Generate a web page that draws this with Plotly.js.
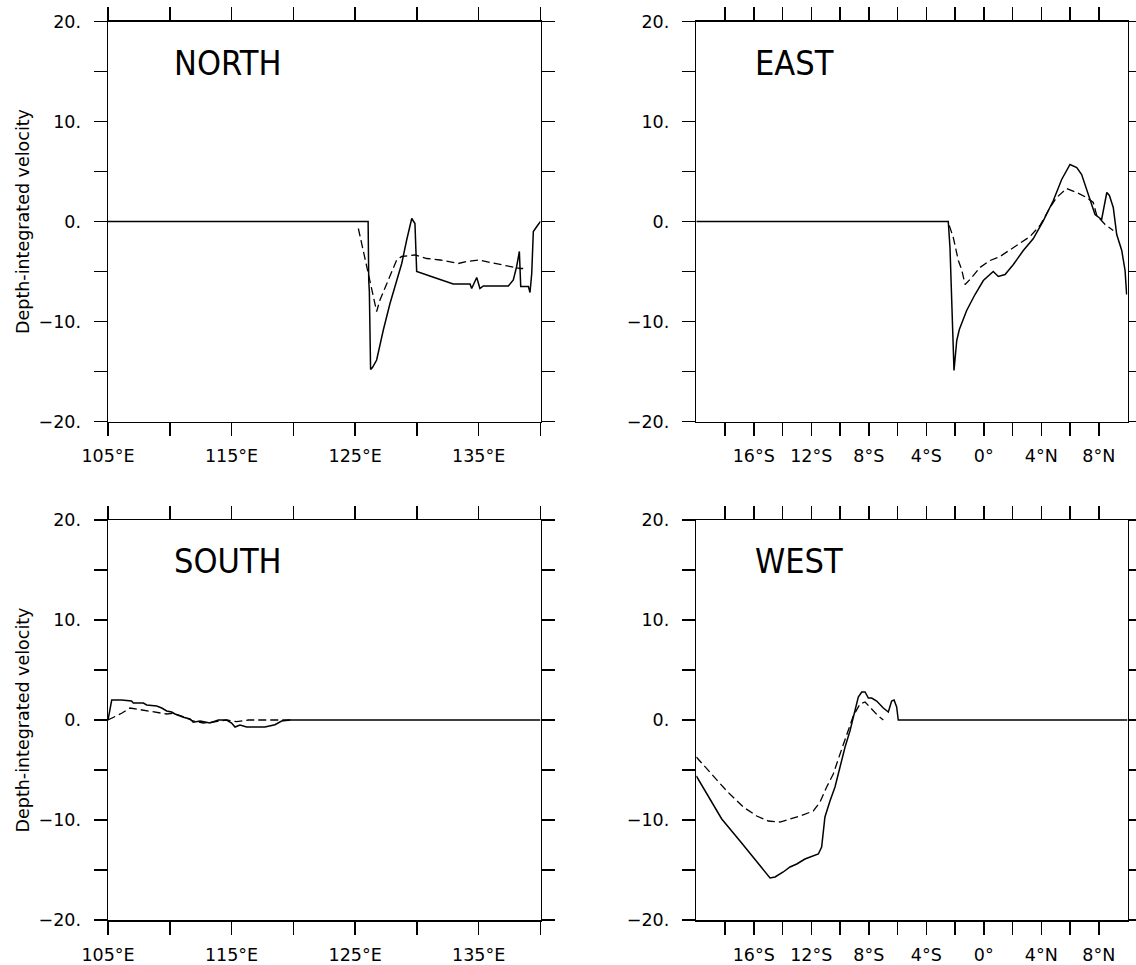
<!DOCTYPE html>
<html>
<head>
<meta charset="utf-8">
<script src="https://cdn.plot.ly/plotly-3.0.1.min.js"></script>
<style>html,body{margin:0;padding:0;background:#fff}#chart{width:1136px;height:965px}</style>
</head>
<body>
<div id="chart"></div>
<script>
// ---------- data ----------
const panelTitles = ["NORTH", "EAST", "SOUTH", "WEST"];
const yTitle = "Depth-integrated velocity";

const lonTickVals = [105, 110, 115, 120, 125, 130, 135, 140];
const lonTickText = ["105°E", "", "115°E", "", "125°E", "", "135°E", ""];
const latTickVals = [-18, -16, -14, -12, -10, -8, -6, -4, -2, 0, 2, 4, 6, 8];
const latTickText = ["", "16°S", "", "12°S", "", "8°S", "", "4°S", "", "0°", "", "4°N", "", "8°N"];
const velTickVals = [-20, -15, -10, -5, 0, 5, 10, 15, 20];
const velTickText = ["\u221220.", "", "\u221210.", "", "0.", "", "10.", "", "20."];

// NORTH section (longitude)
const northSolidX = [105, 126.05, 126.1, 126.15, 126.25, 126.4, 126.74, 127.28, 127.82, 128.36, 128.77, 129.17, 129.58, 129.84, 129.98, 131.4, 132.94, 134.3, 134.43, 134.84, 135.1, 135.37, 137.4, 137.8, 138.07, 138.29, 138.4, 139.02, 139.15, 139.29, 139.42, 139.7, 139.96, 140];
const northSolidY = [0, 0, -5.9, -7.0, -14.8, -14.6, -13.85, -10.85, -8.2, -5.85, -4.2, -1.85, 0.3, -0.2, -5.0, -5.6, -6.25, -6.25, -6.7, -5.6, -6.7, -6.45, -6.45, -5.85, -4.5, -3.0, -6.5, -6.5, -7.1, -5.2, -1.0, -0.5, 0, 0];
const northDashX = [125.26, 125.53, 125.93, 126.34, 126.74, 127.01, 127.55, 128.09, 128.36, 128.77, 129.84, 130.8, 131.87, 133.35, 134.03, 134.97, 136.45, 137.26, 138.34, 138.6];
const northDashY = [-0.7, -2.2, -4.7, -6.85, -9.0, -7.85, -6.2, -4.7, -3.85, -3.5, -3.35, -3.7, -3.85, -4.2, -4.0, -3.85, -4.25, -4.45, -4.7, -4.7];

// EAST section (latitude)
const eastSolidX = [-20, -2.47, -2.35, -2.23, -2.12, -2.07, -1.88, -1.7, -1.19, -0.61, -0.03, 0.66, 1.01, 1.48, 2.06, 2.75, 3.45, 4.14, 4.84, 5.42, 6.0, 6.47, 6.81, 7.27, 7.74, 8.2, 8.56, 8.74, 9.01, 9.25, 9.6, 9.83, 9.94];
const eastSolidY = [0, 0, -2.6, -7.6, -12.8, -14.9, -11.9, -10.8, -8.9, -7.3, -5.9, -5.0, -5.5, -5.3, -4.3, -2.9, -1.7, 0.07, 2.1, 4.2, 5.7, 5.4, 4.7, 2.7, 0.7, 0.2, 2.9, 2.6, 1.4, -1.3, -2.9, -4.9, -7.3];
const eastDashX = [-2.4, -2.12, -1.77, -1.54, -1.3, -0.96, -0.26, 0.43, 1.13, 1.83, 2.52, 3.22, 3.91, 4.61, 5.07, 5.77, 6.47, 7.16, 7.62, 7.86, 8.44, 9.01];
const eastDashY = [-0.4, -1.6, -3.9, -4.8, -6.3, -5.8, -4.6, -3.9, -3.5, -2.8, -2.2, -1.5, -0.4, 1.4, 2.4, 3.3, 2.9, 2.4, 1.9, 0.6, -0.3, -0.9];

// SOUTH section (longitude)
const southSolidX = [105, 105.16, 105.3, 106.1, 106.9, 107.05, 107.86, 108.13, 108.94, 109.35, 109.75, 110.15, 110.42, 111.1, 111.64, 111.9, 112.45, 113.25, 113.93, 114.6, 115.0, 115.28, 115.68, 116.22, 117.7, 118.51, 119.05, 119.73, 140];
const southSolidY = [0, 1.1, 2.0, 2.0, 1.9, 1.7, 1.7, 1.5, 1.4, 1.2, 0.9, 0.8, 0.6, 0.27, 0.1, -0.23, -0.1, -0.3, 0.0, 0.0, -0.3, -0.7, -0.5, -0.7, -0.7, -0.47, -0.1, 0, 0];
const southDashX = [105, 106.1, 106.78, 107.86, 108.8, 109.75, 110.28, 110.96, 111.9, 112.71, 113.52, 114.6, 115.41, 116.35, 117.84, 118.92, 120];
const southDashY = [0, 0.67, 1.2, 1.0, 0.8, 0.6, 0.67, 0.4, -0.1, -0.3, -0.2, 0.0, -0.17, 0.0, 0.0, 0, 0];

// WEST section (latitude)
const westSolidX = [-20, -19.28, -18.23, -16.96, -15.8, -15.22, -14.87, -14.52, -13.95, -13.48, -13.01, -12.44, -11.86, -11.51, -11.28, -11.16, -11.05, -10.7, -10.35, -10.0, -9.65, -9.31, -8.96, -8.73, -8.49, -8.26, -8.03, -7.8, -7.45, -6.99, -6.64, -6.41, -6.24, -6.06, -5.95, 10];
const westSolidY = [-5.6, -7.4, -9.9, -12.1, -14.1, -15.1, -15.8, -15.7, -15.2, -14.7, -14.4, -13.9, -13.6, -13.4, -12.7, -11.1, -9.7, -8.1, -6.7, -4.7, -2.7, -1.1, 0.9, 2.3, 2.8, 2.8, 2.2, 2.2, 1.9, 1.2, 0.8, 1.9, 2.0, 1.3, 0, 0];
const westDashX = [-20, -19.05, -17.88, -16.73, -15.8, -14.99, -14.18, -13.48, -12.79, -11.86, -11.39, -10.93, -10.47, -10.0, -9.54, -9.08, -8.61, -8.26, -7.8, -7.34, -6.99];
const westDashY = [-3.7, -5.2, -7.1, -8.7, -9.6, -10.1, -10.2, -9.9, -9.6, -9.1, -8.2, -6.7, -5.4, -3.4, -1.4, 0.4, 1.6, 1.8, 1.1, 0.4, 0];

// ---------- figure ----------
const W = 1136, H = 965;
const colL = [108 / W, 540.5 / W];
const colR = [696.3 / W, 1127.5 / W];
const rowT = [1 - 421.5 / H, 1 - 21.5 / H];
const rowB = [1 - 920 / H, 1 - 520 / H];

const tickFont = {family: "DejaVu Sans, Liberation Sans, sans-serif", size: 17.5, color: "#000"};
const solidLine = {color: "#000", width: 1.5};
const dashLine = {color: "#000", width: 1.3, dash: "8px,4px"};

function tr(x, y, ax, line) {
  return {x: x, y: y, xaxis: "x" + ax, yaxis: "y" + ax, mode: "lines", line: line, hoverinfo: "skip", showlegend: false};
}
const data = [
  tr(northSolidX, northSolidY, "", solidLine), tr(northDashX, northDashY, "", dashLine),
  tr(eastSolidX, eastSolidY, "2", solidLine), tr(eastDashX, eastDashY, "2", dashLine),
  tr(southSolidX, southSolidY, "3", solidLine), tr(southDashX, southDashY, "3", dashLine),
  tr(westSolidX, westSolidY, "4", solidLine), tr(westDashX, westDashY, "4", dashLine)
];

const common = {showline: true, mirror: "ticks", linecolor: "#000", linewidth: 1.5, ticks: "outside",
  ticklen: 13, tickwidth: 1.5, tickcolor: "#000", showgrid: false, zeroline: false, tickfont: tickFont, fixedrange: true};

function xLon(domain, anchor) {
  return Object.assign({}, common, {domain: domain, anchor: anchor, range: [105, 140], tickmode: "array",
    tickvals: lonTickVals, ticktext: lonTickText, ticklabelstandoff: 5});
}
function xLat(domain, anchor) {
  return Object.assign({}, common, {domain: domain, anchor: anchor, range: [-20, 10], tickmode: "array",
    tickvals: latTickVals, ticktext: latTickText, ticklabelstandoff: 5});
}
function yVel(domain, anchor, withTitle) {
  const o = Object.assign({}, common, {domain: domain, anchor: anchor, range: [-20, 20], tickmode: "array",
    tickvals: velTickVals, ticktext: velTickText, ticklabelstandoff: 9});
  if (withTitle) o.title = {text: yTitle, font: {family: "DejaVu Sans, sans-serif", size: 17.5, color: "#000"}, standoff: 4};
  return o;
}

const titleFont = {family: "DejaVu Sans Condensed, Liberation Sans Narrow, Liberation Sans, sans-serif", size: 34, color: "#000"};
function ann(text, px, py) {
  return {text: text, xref: "paper", yref: "paper", x: px / W, y: 1 - py / H, xanchor: "left", yanchor: "middle",
    showarrow: false, font: titleFont};
}

const layout = {
  width: W, height: H,
  margin: {l: 0, r: 0, t: 0, b: 0},
  paper_bgcolor: "#fff", plot_bgcolor: "#fff",
  showlegend: false,
  xaxis: xLon(colL, "y"), yaxis: yVel(rowT, "x", true),
  xaxis2: xLat(colR, "y2"), yaxis2: yVel(rowT, "x2", false),
  xaxis3: xLon(colL, "y3"), yaxis3: yVel(rowB, "x3", true),
  xaxis4: xLat(colR, "y4"), yaxis4: yVel(rowB, "x4", false),
  annotations: [
    ann(panelTitles[0], 172, 62.5), ann(panelTitles[1], 753, 62.5),
    ann(panelTitles[2], 172, 561), ann(panelTitles[3], 753, 561)
  ]
};

Plotly.newPlot("chart", data, layout, {displayModeBar: false, staticPlot: true});
</script>
</body>
</html>
